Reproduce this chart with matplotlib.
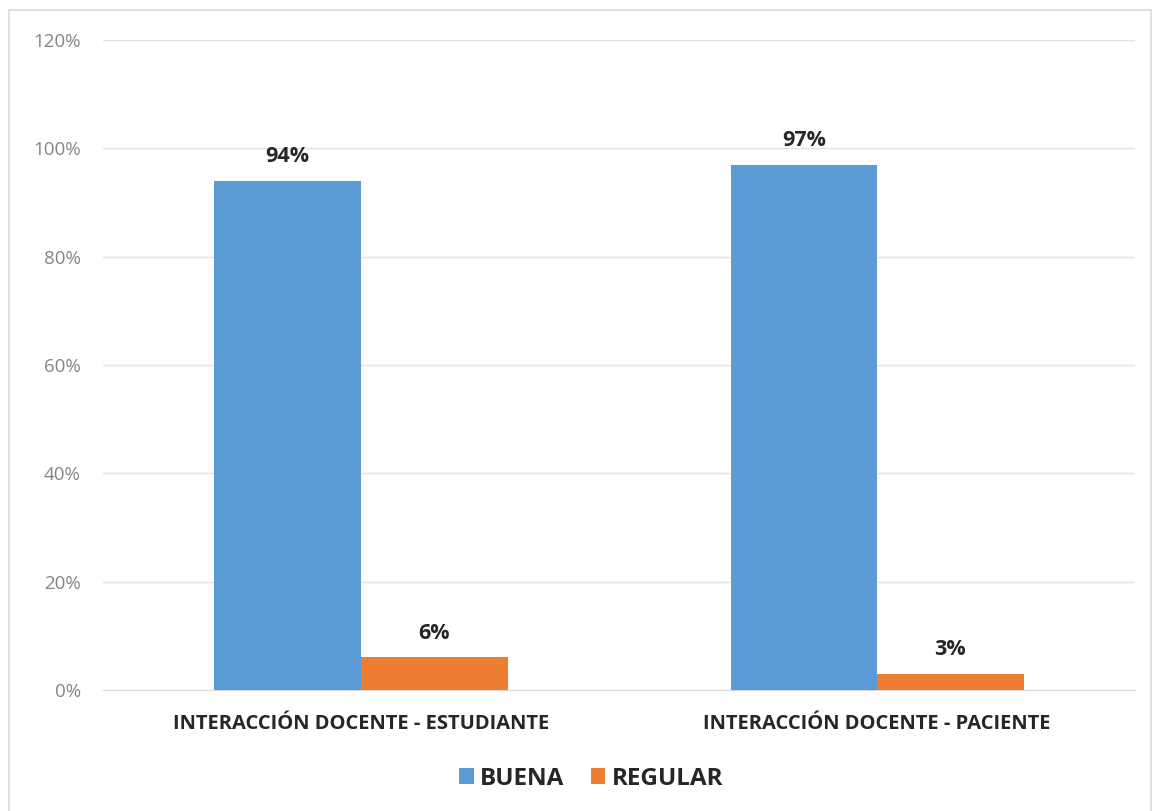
import numpy as np
import matplotlib.pyplot as plt
from matplotlib.patches import Rectangle

# --- Data ---
categories = ['INTERACCIÓN DOCENTE - ESTUDIANTE', 'INTERACCIÓN DOCENTE - PACIENTE']
series_names = ['BUENA', 'REGULAR']
buena = [94, 97]
regular = [6, 3]
y_ticks = [0, 20, 40, 60, 80, 100, 120]

# --- Style ---
COLORS = ['#5B9BD5', '#ED7D31']
FONT = ['Open Sans', 'DejaVu Sans']
plt.rcParams['font.family'] = FONT

fig = plt.figure(figsize=(11.61, 8.11), dpi=100)
ax = fig.add_axes([0.0887, 0.1492, 0.889, 0.8015])

x = np.arange(len(categories))
width = 0.284
bars_b = ax.bar(x - width / 2, buena, width, color=COLORS[0], label=series_names[0], zorder=3)
bars_r = ax.bar(x + width / 2, regular, width, color=COLORS[1], label=series_names[1], zorder=3)

for bars in (bars_b, bars_r):
    for b in bars:
        ax.annotate(f'{b.get_height():.0f}%', (b.get_x() + b.get_width() / 2, b.get_height()),
                    xytext=(0, 10), textcoords='offset points', ha='center', va='bottom',
                    fontsize=15.5, fontweight='bold', color='#262626')

ax.set_xlim(-0.5, 1.5)
ax.set_ylim(0, 120)
ax.set_yticks(y_ticks)
ax.set_yticklabels([f'{t}%' for t in y_ticks], fontsize=13.5, color='#858585')
ax.set_xticks(x)
ax.set_xticklabels(categories, fontsize=14.5, fontweight='bold', color='#262626')
ax.tick_params(axis='both', length=0)
ax.tick_params(axis='y', pad=16)
ax.tick_params(axis='x', pad=17)
ax.grid(axis='y', color='#e3e3e3', linewidth=1, zorder=0)
for s in ['top', 'right', 'left']:
    ax.spines[s].set_visible(False)
ax.spines['bottom'].set_color('#d9d9d9')

leg = fig.legend(loc='center', bbox_to_anchor=(0.509, 0.040), ncol=2, frameon=False,
                 fontsize=17.5, handlelength=0.6, handleheight=0.6, handletextpad=0.25,
                 columnspacing=1.1)
for t in leg.get_texts():
    t.set_fontweight('bold')
    t.set_color('#262626')

# chart border (open at the bottom edge of the image)
fig.patches.append(Rectangle((0.008, -0.05), 0.983, 1.038, transform=fig.transFigure,
                             fill=False, edgecolor='#d9d9d9', linewidth=1.2))

plt.savefig('out.png', dpi=100)
